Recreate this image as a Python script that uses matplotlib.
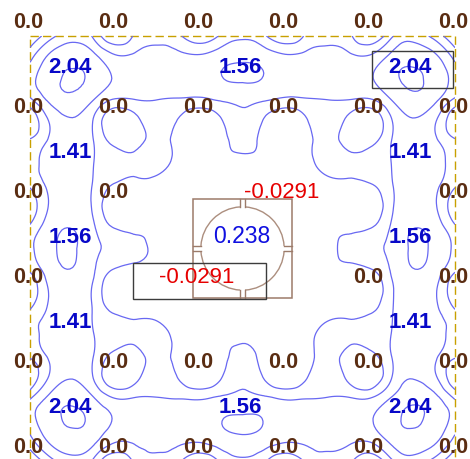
import numpy as np
import matplotlib
matplotlib.use("Agg")
import matplotlib.pyplot as plt
import matplotlib.tri as mtri
from matplotlib.patches import Rectangle, Arc

# Slab deflection sampled every quarter panel over one quadrant
# (u, v in panel units from 0 to 2.5; rows are v, columns are u).
defl_quadrant = np.array([
    [0.00, 0.85, 1.30, 0.90, 0.00, 0.65, 0.85, 0.60, 0.00, 0.60, 0.90],
    [0.85, 1.65, 1.88, 1.65, 1.10, 1.12, 1.20, 1.15, 1.10, 1.30, 1.40],
    [1.30, 1.88, 2.04, 1.88, 1.45, 1.38, 1.41, 1.38, 1.30, 1.48, 1.56],
    [0.90, 1.65, 1.88, 1.50, 0.95, 1.00, 1.00, 0.95, 0.90, 1.05, 1.12],
    [0.00, 1.10, 1.45, 0.95, 0.00, 0.35, 0.70, 0.45, 0.00, 0.45, 0.88],
    [0.65, 1.12, 1.38, 1.00, 0.35, 0.38, 0.60, 0.40, 0.20, 0.38, 0.62],
    [0.85, 1.20, 1.41, 1.00, 0.70, 0.60, 0.60, 0.40, 0.30, 0.35, 0.42],
    [0.60, 1.15, 1.38, 0.95, 0.45, 0.40, 0.40, 0.30, 0.20, 0.20, 0.30],
    [0.00, 1.10, 1.30, 0.90, 0.00, 0.20, 0.30, 0.20, 0.00, 0.10, 0.20],
    [0.60, 1.30, 1.48, 1.05, 0.45, 0.38, 0.35, 0.20, 0.10, 0.18, 0.22],
    [0.90, 1.40, 1.56, 1.12, 0.88, 0.62, 0.42, 0.30, 0.20, 0.22, 0.238],
])

contour_levels = [0.5, 1.0, 1.5, 2.0]

# Column grid (6 x 6 supports) and their labels
grid_cols = [0, 1, 2, 3, 4, 5]
grid_rows = [0, 1, 2, 3, 4, 5]
support_text = "0.0"
unlabelled_supports = [(2, 2), (3, 3), (4, 2), (1, 3)]
min_supports = [(3, 2), (2, 3)]
min_value = -0.0291

# Peak deflection per panel (panel column, panel row, value)
peak_cols = [0, 2, 4, 0, 4, 0, 4, 0, 4, 0, 2, 4]
peak_rows = [0, 0, 0, 1, 1, 2, 2, 3, 3, 4, 4, 4]
peak_values = [2.04, 1.56, 2.04, 1.41, 1.41, 1.56, 1.56, 1.41, 1.41, 2.04, 1.56, 2.04]
centre_value = 0.238

FONT = "Liberation Sans"

# ---- build the full symmetric field ----
top = np.hstack([defl_quadrant, defl_quadrant[:, -2::-1]])
field = np.vstack([top, top[-2::-1, :]])
n = field.shape[0]
coords = np.linspace(grid_cols[0], grid_cols[-1], n)
U, V = np.meshgrid(coords, coords)
tri = mtri.Triangulation(U.ravel(), V.ravel())
refiner = mtri.UniformTriRefiner(tri)
tri_f, z_f = refiner.refine_field(field.ravel(), subdiv=3)

W, H = 470, 459
fig = plt.figure(figsize=(W / 100, H / 100), dpi=100)
fig.patch.set_facecolor("white")
ax = fig.add_axes([30 / W, (H - 461) / H, 425 / W, 425 / H])
ax.set_xlim(0, 5)
ax.set_ylim(5, 0)
ax.axis("off")

ax.tricontour(tri_f, z_f, levels=contour_levels, colors="#6868F2", linewidths=0.9)

# slab outline
ax.add_patch(Rectangle((0, 0), 5, 5, fill=False, edgecolor="#C8A000",
                       linewidth=1.0, linestyle=(0, (6, 3)), clip_on=False))

# central opening: square with a notched circle
cx, cy = 2.5, 2.5
half_sq, r, g = 0.58, 0.49, 0.03
ax.add_patch(Rectangle((cx - half_sq, cy - half_sq), 2 * half_sq, 2 * half_sq,
                       fill=False, edgecolor="#9C7B6A", linewidth=1.1))
gap_deg = np.degrees(g / r)
for a0 in [0, 90, 180, 270]:
    ax.add_patch(Arc((cx, cy), 2 * r, 2 * r, theta1=a0 + gap_deg,
                     theta2=a0 + 90 - gap_deg, edgecolor="#AC8E7E", linewidth=1.0))
    d = np.array([np.cos(np.radians(a0)), np.sin(np.radians(a0))])
    p = np.array([-d[1], d[0]])
    for s in (-1, 1):
        start = np.array([cx, cy]) + r * d + s * g * p
        end = np.array([cx, cy]) + half_sq * d + s * g * p
        ax.plot([start[0], end[0]], [start[1], end[1]], color="#9C7B6A", linewidth=1.0)

# support labels
for i in grid_cols:
    for j in grid_rows:
        if (i, j) in unlabelled_supports:
            continue
        if (i, j) in min_supports:
            ax.text(i - 0.04, j - 0.155, f"{min_value:.4f}", color="#E60000",
                    fontsize=16, ha="center", va="center", clip_on=False,
                    family=FONT, zorder=5)
        else:
            ax.text(i - 0.02, j - 0.155, support_text, color="#5A2D12", fontsize=15.5,
                    fontweight="bold", ha="center", va="center", clip_on=False,
                    family=FONT, zorder=5)

# panel peak labels
for pc, pr, val in zip(peak_cols, peak_rows, peak_values):
    ax.text(pc + 0.47, pr + 0.37, f"{val:.2f}", color="#0808C8", fontsize=16,
            fontweight="bold", ha="center", va="center", family=FONT, zorder=5)

ax.text(cx - 0.01, cy - 0.14, f"{centre_value:.3f}", color="#1010E0", fontsize=16.5,
        ha="center", va="center", family=FONT, zorder=5)

# highlight boxes
ax.add_patch(Rectangle((1.21, 2.67), 1.57, 0.42, fill=False, edgecolor="#3C3C3C",
                       linewidth=1.0, zorder=4))
ax.add_patch(Rectangle((4.02, 0.18), 0.96, 0.43, fill=False, edgecolor="#3C3C3C",
                       linewidth=1.0, zorder=4))

fig.savefig("out.png", dpi=100, facecolor="white")
